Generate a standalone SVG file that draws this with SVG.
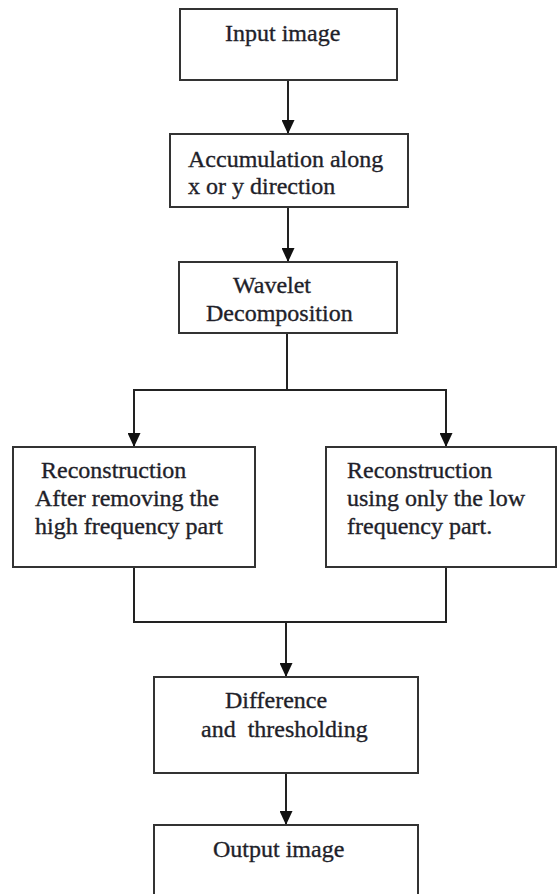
<svg xmlns="http://www.w3.org/2000/svg" width="557" height="894" viewBox="0 0 557 894">
  <style>
    .box { fill: #ffffff; stroke: #333333; stroke-width: 2; }
    .lbl { font-family: "Liberation Serif", "Times New Roman", serif; font-size: 24px; fill: #1f1f2a; stroke: #1f1f2a; stroke-width: 0.35; }
    .conn { fill: none; stroke: #222222; stroke-width: 2; }
  </style>
  <defs>
    <marker id="arrow" markerWidth="14" markerHeight="13" refX="14" refY="6.5" orient="auto" markerUnits="userSpaceOnUse">
      <path d="M0,0 L14,6.5 L0,13 Z" fill="#111111"/>
    </marker>
  </defs>
  <rect width="557" height="894" fill="#ffffff"/>

  <g id="connectors">
    <line class="conn" x1="288" y1="80" x2="288" y2="134" marker-end="url(#arrow)"/>
    <line class="conn" x1="288" y1="207" x2="288" y2="262" marker-end="url(#arrow)"/>
    <polyline class="conn" points="287,333 287,390"/>
    <polyline class="conn" points="287,390 134,390 134,447" marker-end="url(#arrow)"/>
    <polyline class="conn" points="287,390 446,390 446,447" marker-end="url(#arrow)"/>
    <polyline class="conn" points="134,567 134,622 446,622 446,567"/>
    <line class="conn" x1="286" y1="622" x2="286" y2="677" marker-end="url(#arrow)"/>
    <line class="conn" x1="286" y1="773" x2="286" y2="825" marker-end="url(#arrow)"/>
  </g>

  <g id="input-image">
    <rect class="box" x="180" y="9" width="217" height="71"/>
    <text class="lbl" x="225" y="41">Input image</text>
  </g>

  <g id="accumulation">
    <rect class="box" x="170" y="134" width="238" height="73"/>
    <text class="lbl" x="188" y="167">Accumulation along</text>
    <text class="lbl" x="188" y="194">x or y direction</text>
  </g>

  <g id="wavelet">
    <rect class="box" x="179" y="262" width="218" height="71"/>
    <text class="lbl" x="233" y="293">Wavelet</text>
    <text class="lbl" x="206" y="321">Decomposition</text>
  </g>

  <g id="reconstruction-high">
    <rect class="box" x="13" y="447" width="242" height="120"/>
    <text class="lbl" x="41" y="478">Reconstruction</text>
    <text class="lbl" x="35" y="506">After removing the</text>
    <text class="lbl" x="35" y="534">high frequency part</text>
  </g>

  <g id="reconstruction-low">
    <rect class="box" x="326" y="447" width="230" height="120"/>
    <text class="lbl" x="347" y="478">Reconstruction</text>
    <text class="lbl" x="347" y="506">using only the low</text>
    <text class="lbl" x="347" y="534">frequency part.</text>
  </g>

  <g id="difference">
    <rect class="box" x="154" y="677" width="264" height="96"/>
    <text class="lbl" x="225" y="708">Difference</text>
    <text class="lbl" x="201" y="737" xml:space="preserve">and  thresholding</text>
  </g>

  <g id="output-image">
    <path class="box" d="M154,900 L154,825 L418,825 L418,900"/>
    <text class="lbl" x="213" y="857">Output image</text>
  </g>
</svg>
